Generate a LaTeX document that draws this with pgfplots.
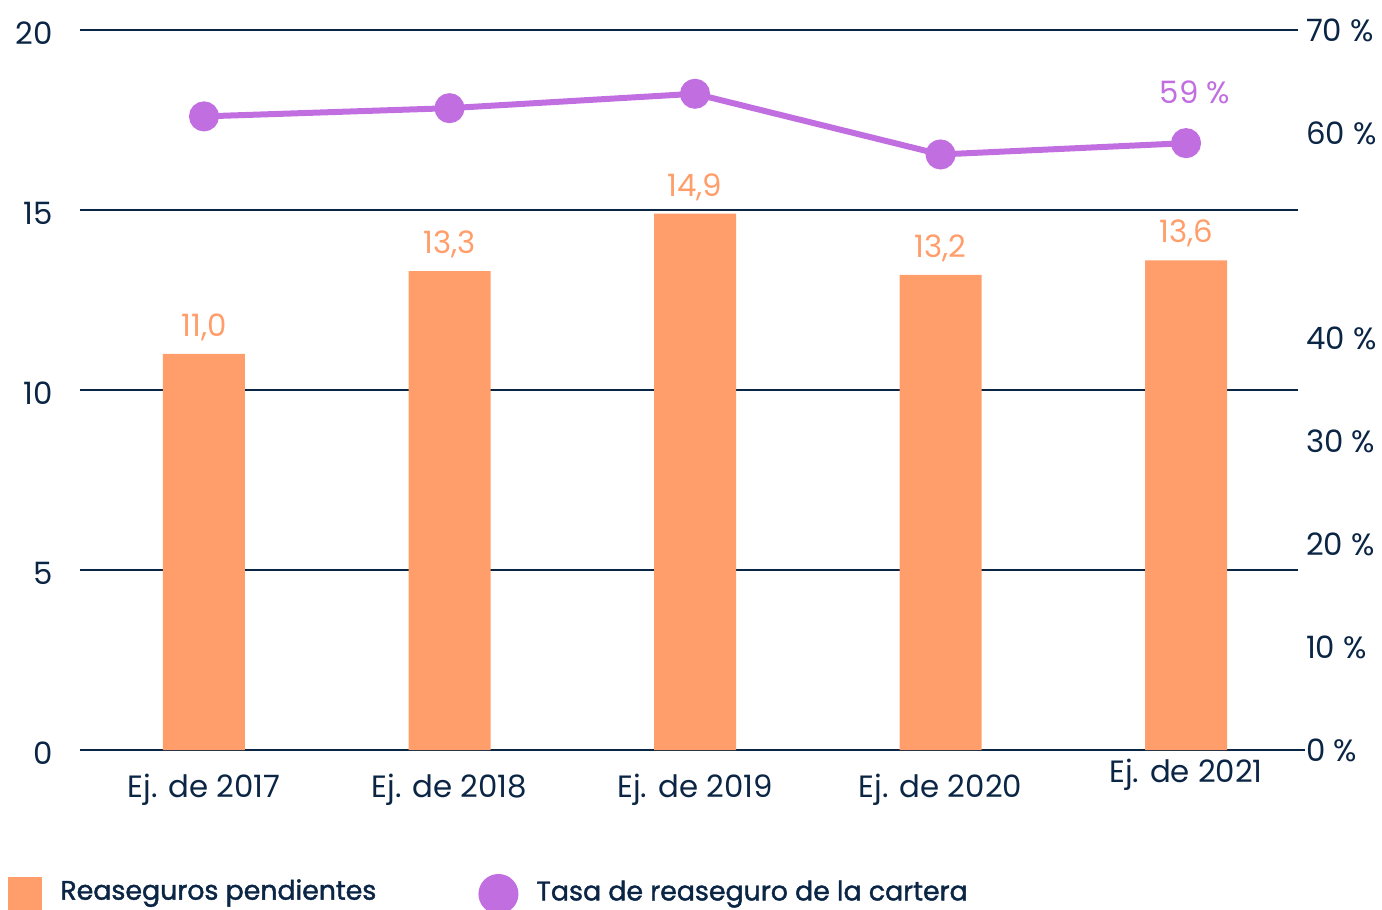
\documentclass[border=0pt]{standalone}
\usepackage{pgfplots}
\pgfplotsset{compat=1.18}
\usepackage{fontspec}
\setmainfont{Poppins}
\newfontfamily\legfont[FakeBold=1.5]{Poppins}
\definecolor{navy}{HTML}{0B2545}
\definecolor{barorange}{HTML}{FF9E6B}
\definecolor{linepurple}{HTML}{C16EE0}
\begin{document}
\begin{tikzpicture}
\useasboundingbox (-40pt,-80pt) rectangle (651pt,375pt);
\pgfplotsset{
  /pgf/number format/assume math mode=true,
  every axis/.append style={
    at={(0,0)}, anchor=south west,
    scale only axis, width=609pt, height=360pt,
    xmin=-0.505, xmax=4.456,
    font=\fontsize{15.4}{18}\selectfont,
    major tick length=0pt,
    tick label style={text=navy},
  }
}
\begin{axis}[
  ymin=0, ymax=20,
  axis x line*=bottom, axis y line*=left,
  y axis line style={draw=none},
  x axis line style={navy, line width=1.2pt, -, shorten >=-3.5pt},
  ytick={0,5,10,15,20},
  ymajorgrids, grid style={navy, line width=0.6pt},
  yticklabel style={anchor=east, xshift=-10pt, yshift=-1.5pt},
  xtick={0,1,2,3,4},
  xticklabels={Ej. de 2017, Ej. de 2018, Ej. de 2019, Ej. de 2020, \raisebox{7.5pt}[\height][\depth]{Ej. de 2021}},
  xticklabel style={anchor=north, yshift=-8.5pt},
  legend style={at={(-0.0591,-0.2)}, anchor=west, draw=none, fill=none,
    inner sep=0pt, column sep=9pt, nodes={inner sep=0pt, text=navy, font=\fontsize{13.4}{16}\legfont}},
]
\addplot[ybar, bar width=41pt, fill=barorange, draw=none,
  nodes near coords, point meta=y,
  nodes near coords style={text=barorange, anchor=south, yshift=3pt,
    /pgf/number format/.cd, fixed, fixed zerofill, precision=1, use comma},
  legend image code/.code={\fill[barorange] (0pt,-10pt) rectangle (17pt,7pt);}]
  coordinates {(0,11.0) (1,13.3) (2,14.9) (3,13.2) (4,13.6)};
\addlegendentry{Reaseguros pendientes}
\end{axis}
\begin{axis}[
  ymin=0, ymax=70,
  axis x line=none, axis y line*=right,
  y axis line style={draw=none},
  ytick={0,10,20,30,40,60,70},
  yticklabels={0 \%, 10 \%, 20 \%, 30 \%, 40 \%, 60 \%, 70 \%},
  yticklabel style={anchor=west, xshift=0.5pt},
  legend style={at={(0.3268,-0.2)}, anchor=west, draw=none, fill=none,
    inner sep=0pt, column sep=9pt, nodes={inner sep=0pt, text=navy, font=\fontsize{13.4}{16}\legfont}},
]
\addplot[linepurple, line width=3pt, mark=*, mark size=6pt,
  mark options={fill=linepurple, draw=none},
  legend image code/.code={\fill[linepurple] (8.5pt,-1pt) circle (8.5pt);}]
  coordinates {(0,61.6) (1,62.4) (2,63.8) (3,57.9) (4,59.0)};
\addlegendentry{Tasa de reaseguro de la cartera}
\addplot[draw=none, mark=none, nodes near coords={59 \%},
  nodes near coords style={text=linepurple, anchor=south, xshift=4.5pt, yshift=16pt},
  forget plot]
  coordinates {(4,59.0)};
\end{axis}
\end{tikzpicture}
\end{document}
